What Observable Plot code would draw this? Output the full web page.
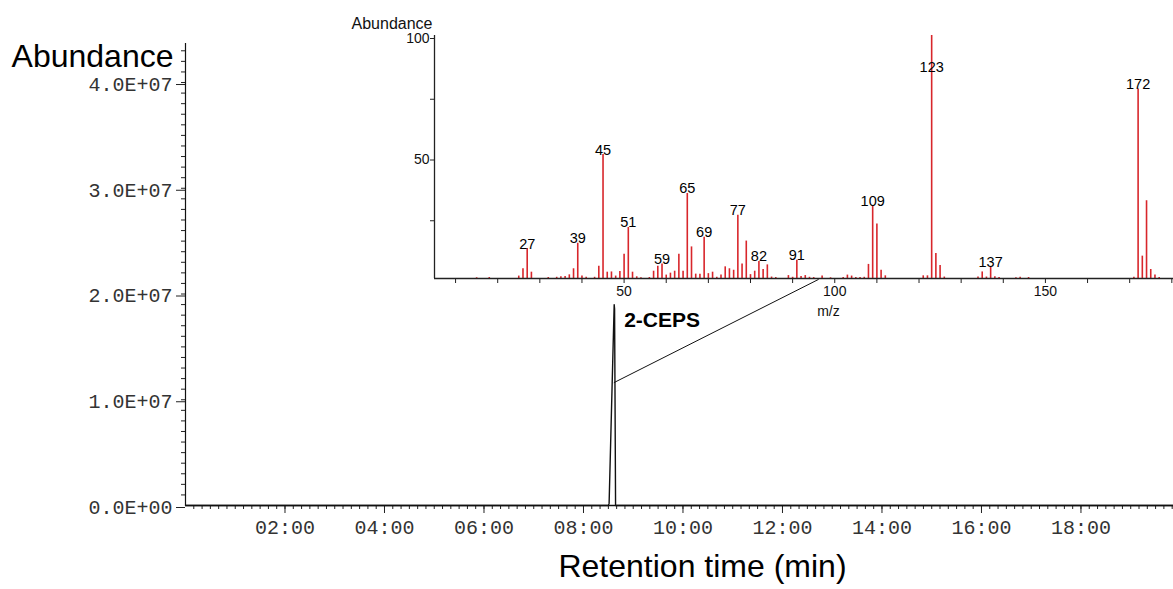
<!DOCTYPE html>
<html><head><meta charset="utf-8">
<script src="https://cdn.jsdelivr.net/npm/d3@7"></script>
<script src="https://cdn.jsdelivr.net/npm/@observablehq/plot@0.6"></script>
<style>
body{margin:0;background:#fff;}
#wrap{position:relative;width:1173px;height:589px;overflow:hidden;}
#wrap svg{position:absolute;}
</style></head><body><div id="wrap"></div>
<script>
// ---- Chromatogram (total ion current) ----
const rtMin     = [0, 8.50, 8.515, 8.617, 8.625, 8.645, 19.86];
const abundance = [0, 0, 0.02e7, 1.90e7, 1.86e7, 0, 0];
const peakName  = "2-CEPS";
// connector from peak to the spectrum inset (time, abundance)
const connTime  = [8.617, 12.72];
const connAbund = [1.163e7, 2.137e7];
const xMajorTicks = [2, 4, 6, 8, 10, 12, 14, 16, 18];
const yMajorTicks = [0, 1e7, 2e7, 3e7, 4e7];

// ---- Mass spectrum inset ----
const mz = [15,18,25,26,27,28,32,34,35,36,37,38,39,40,41,43,44,45,46,47,48,49,50,51,52,53,54,56,57,58,59,60,61,62,63,64,65,66,67,68,69,70,71,72,73,74,75,76,77,78,79,80,81,82,83,84,85,86,89,90,91,92,93,94,95,97,99,102,103,104,105,106,107,108,109,110,111,112,121,122,123,124,125,126,134,135,136,137,138,139,143,144,146,171,172,173,174,175,176,177];
const relAbund = [0.3,0.4,1.0,4.0,12.3,2.6,0.4,0.5,0.7,0.8,1.5,4.0,14.5,1.0,0.5,0.5,5.0,51,2.6,2.7,1.0,2.9,10,21,2.6,0.7,0.3,0.4,3.0,5.0,6.0,1.4,2.2,3.0,10,3.0,35,13,1.8,1.8,17,2.0,2.6,0.5,1.4,4.8,4.0,3.4,26,6.0,15.4,1.6,3.0,7.0,3.7,5.6,0.6,0.4,1.2,0.5,7.5,0.8,1.2,0.5,0.4,1.0,0.3,0.4,1.4,1.0,0.4,0.4,0.5,5.8,30,22.4,3.4,1.1,1.1,1.1,100,10.3,5.3,0.6,0.6,2.7,0.6,4.8,0.7,0.4,0.3,0.5,0.4,0.5,78,9.2,32,3.7,1.4,0.4];
const labeledMz = [27,39,45,51,59,65,69,77,82,91,109,123,137,172];
const insetXLabels = [50, 100, 150];
const insetYLabels = [50, 100];

const chrom = rtMin.map((t, i) => ({t, a: abundance[i]}));
const conn = connTime.map((t, i) => ({t, a: connAbund[i]}));
const spec = mz.map((m, i) => ({m, v: relAbund[i]}));
const labels = spec.filter(d => labeledMz.includes(d.m));

const fmtTime = m => String(Math.round(m)).padStart(2, "0") + ":00";
const fmtSci = d => {
  if (d === 0) return "0.0E+00";
  const e = Math.floor(Math.log10(d));
  return (d / 10 ** e).toFixed(1) + "E+" + String(e).padStart(2, "0");
};

const mono = {fontFamily: "Liberation Mono", fontSize: 20, fill: "#333"};
const sans = "Liberation Sans, Arial, sans-serif";

const main = Plot.plot({
  width: 1173, height: 589,
  marginLeft: 185, marginRight: 0, marginTop: 43, marginBottom: 84,
  style: {background: "transparent", overflow: "visible"},
  x: {domain: [0, 19.86]},
  y: {domain: [0, 4.369e7]},
  marks: [
    Plot.axisX(d3.range(1, 120).map(i => i / 6), {tickSize: 4, tickFormat: () => "", label: null, stroke: "#222"}),
    Plot.axisX(xMajorTicks, {tickSize: 8, tickPadding: 6, tickFormat: fmtTime, label: null, stroke: "#222", ...mono}),
    Plot.axisY(d3.range(1, 44).map(i => i * 1e6), {tickSize: 4, tickFormat: () => "", label: null, stroke: "#222"}),
    Plot.axisY(yMajorTicks, {tickSize: 9, tickPadding: 4, tickFormat: fmtSci, label: null, stroke: "#222", dy: 2, ...mono}),
    Plot.ruleY([0], {stroke: "#111", strokeWidth: 1.5}),
    Plot.ruleX([0], {stroke: "#111", strokeWidth: 1.2}),
    Plot.line(chrom, {x: "t", y: "a", stroke: "#111", strokeWidth: 1.4}),
    Plot.line(conn, {x: "t", y: "a", stroke: "#111", strokeWidth: 1}),
    Plot.text([peakName], {x: () => rtMin[3], y: () => abundance[3], textAnchor: "start", lineAnchor: "top", dx: 10, dy: 7, fontFamily: sans, fontWeight: "bold", fontSize: 21, fill: "#000"}),
    Plot.text(["Abundance"], {frameAnchor: "top-left", textAnchor: "end", lineAnchor: "top", dx: -12, dy: 1, fontFamily: sans, fontSize: 32, fill: "#000"}),
    Plot.text(["Retention time (min)"], {frameAnchor: "bottom", lineAnchor: "top", dx: 23, dy: 49, fontFamily: sans, fontSize: 32, fill: "#000"})
  ]
});
main.style.left = "0px"; main.style.top = "0px";

const red = "#d8262b";
const inset = Plot.plot({
  width: 833, height: 310,
  marginLeft: 94, marginRight: 0, marginTop: 25, marginBottom: 42,
  style: {background: "transparent", overflow: "visible"},
  x: {domain: [5, 180.4]},
  y: {domain: [0, 100]},
  marks: [
    Plot.ruleX(spec, {x: "m", y1: 0, y2: "v", stroke: red, strokeWidth: 1.6}),
    Plot.axisX(d3.range(10, 181, 10), {tickSize: 5, tickPadding: 3, tickFormat: d => insetXLabels.includes(d) ? d : "", label: null, stroke: "#222", fontFamily: sans, fontSize: 14, fill: "#111"}),
    Plot.axisY([25, 50, 75, 100], {tickSize: 4, tickPadding: 1, dy: 3, tickFormat: d => insetYLabels.includes(d) ? d : "", label: null, stroke: "#222", fontFamily: sans, fontSize: 14, fill: "#111"}),
    Plot.ruleY([0], {stroke: "#222", strokeWidth: 1.3}),
    Plot.ruleX([5], {stroke: "#222", strokeWidth: 1.3}),
    Plot.text(labels, {x: "m", y: d => Math.min(d.v, 85), text: d => String(d.m), lineAnchor: "bottom", dy: 0, fontFamily: sans, fontSize: 14.5, fill: "#000"}),
    Plot.text(["Abundance"], {frameAnchor: "top-left", textAnchor: "end", lineAnchor: "bottom", dx: -2, dy: -7, fontFamily: sans, fontSize: 16, fill: "#111"}),
    Plot.text(["m/z"], {x: () => 98.5, frameAnchor: "bottom", lineAnchor: "top", dy: 28, fontFamily: sans, fontSize: 14, fill: "#111"})
  ]
});
inset.style.left = "340px"; inset.style.top = "10px";

const wrap = document.getElementById("wrap");
wrap.appendChild(main);
wrap.appendChild(inset);
</script>
</body></html>
